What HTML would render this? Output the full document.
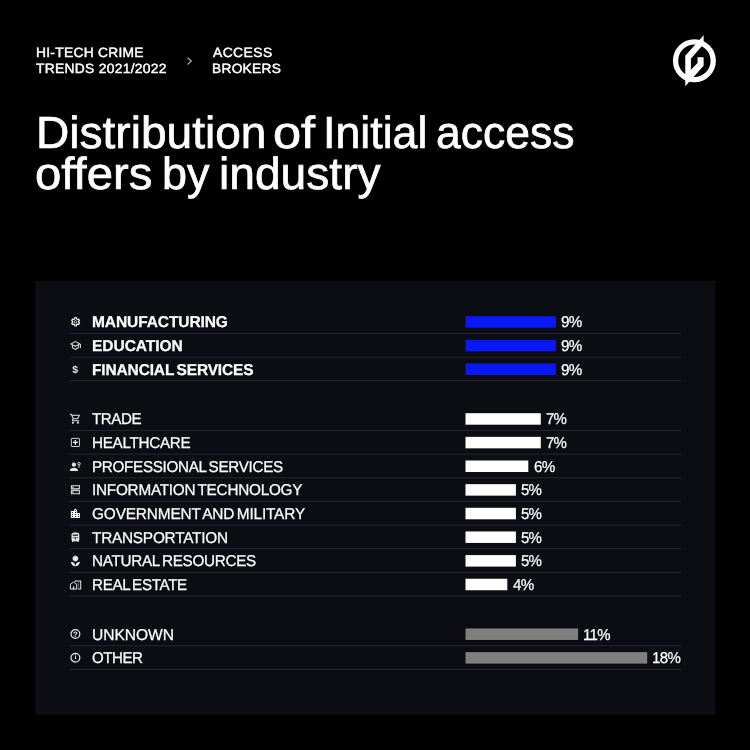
<!DOCTYPE html>
<html lang="en">
<head>
<meta charset="utf-8">
<title>Distribution of Initial access offers by industry</title>
<style>
html,body{margin:0;padding:0;background:#000;}
body{width:750px;height:750px;position:relative;overflow:hidden;font-family:"Liberation Sans",sans-serif;color:#fff;text-rendering:geometricPrecision;}
.t{position:absolute;white-space:pre;line-height:normal;color:#fff;transform-origin:0 0;}
.abs{position:absolute;}
.ttl{position:absolute;left:0;top:0;margin:0;padding:0;font-weight:normal;font-size:0;line-height:0;}
.gl{color:#e6e6e6;line-height:1;}
</style>
</head>
<body>
<svg class="abs" style="left:185px;top:55px" width="10" height="12" viewBox="0 0 10 12"><path d="M2.6 2.7 L6.2 6.1 L2.6 9.5" fill="none" stroke="#a3adba" stroke-width="1.3"/></svg>
<svg class="abs" style="left:664px;top:28px" width="64" height="66" viewBox="0 0 64 66">
<circle cx="30.4" cy="32.8" r="18.85" fill="none" stroke="#fff" stroke-width="5.3"/>
<path d="M39.64 7.20 L39.64 15.95 L26.89 30.64 L26.89 41.80 L33.52 34.96 L33.52 29.20 L39.64 29.20 L39.64 37.84 L21.25 58.30 L21.25 27.76 Z" fill="#fff"/>
</svg>
<svg class="abs" style="left:0;top:0" width="750" height="750" viewBox="0 0 750 750">
<rect x="35" y="280.8" width="680.3" height="434" fill="#0c0d12"/>
<rect x="70" y="332.95" width="611" height="1.1" fill="#24262d"/>
<rect x="465.5" y="316.20" width="90.50" height="11.5" fill="#0a18f5"/>
<rect x="70" y="356.60" width="611" height="1.1" fill="#24262d"/>
<rect x="465.5" y="339.85" width="90.50" height="11.5" fill="#0a18f5"/>
<rect x="70" y="380.25" width="611" height="1.1" fill="#24262d"/>
<rect x="465.5" y="363.50" width="90.50" height="11.5" fill="#0a18f5"/>
<rect x="70" y="429.95" width="611" height="1.1" fill="#24262d"/>
<rect x="465.5" y="413.20" width="75.30" height="11.5" fill="#ffffff"/>
<rect x="70" y="453.60" width="611" height="1.1" fill="#24262d"/>
<rect x="465.5" y="436.85" width="75.30" height="11.5" fill="#ffffff"/>
<rect x="70" y="477.25" width="611" height="1.1" fill="#24262d"/>
<rect x="465.5" y="460.50" width="62.80" height="11.5" fill="#ffffff"/>
<rect x="70" y="500.90" width="611" height="1.1" fill="#24262d"/>
<rect x="465.5" y="484.15" width="50.40" height="11.5" fill="#ffffff"/>
<rect x="70" y="524.55" width="611" height="1.1" fill="#24262d"/>
<rect x="465.5" y="507.80" width="50.40" height="11.5" fill="#ffffff"/>
<rect x="70" y="548.20" width="611" height="1.1" fill="#24262d"/>
<rect x="465.5" y="531.45" width="50.40" height="11.5" fill="#ffffff"/>
<rect x="70" y="571.85" width="611" height="1.1" fill="#24262d"/>
<rect x="465.5" y="555.10" width="50.40" height="11.5" fill="#ffffff"/>
<rect x="70" y="595.50" width="611" height="1.1" fill="#24262d"/>
<rect x="465.5" y="578.75" width="41.80" height="11.5" fill="#ffffff"/>
<rect x="70" y="645.20" width="611" height="1.1" fill="#24262d"/>
<rect x="465.5" y="628.45" width="112.60" height="11.5" fill="#807e7e"/>
<rect x="70" y="668.85" width="611" height="1.1" fill="#24262d"/>
<rect x="465.5" y="652.10" width="181.70" height="11.5" fill="#807e7e"/>
<g transform="translate(69.60 315.80) scale(0.5)"><path d="M13.58 3.85 L10.42 3.85 L9.95 6.36 L8.14 7.40 L5.74 6.55 L4.15 9.30 L6.09 10.96 L6.09 13.04 L4.15 14.70 L5.74 17.45 L8.14 16.60 L9.95 17.64 L10.42 20.15 L13.58 20.15 L14.05 17.64 L15.86 16.60 L18.26 17.45 L19.85 14.70 L17.91 13.04 L17.91 10.96 L19.85 9.30 L18.26 6.55 L15.86 7.40 L14.05 6.36 Z" fill="none" stroke="#f4f4f4" stroke-width="2.4" stroke-linejoin="round"/><circle cx="12" cy="12" r="2.5" fill="none" stroke="#f4f4f4" stroke-width="1.6"/></g>
<g transform="translate(69.40 339.45) scale(0.5)"><path d="M12 3L1 9l4 2.180v6L12 21l7-3.820v-6l2-1.090V17h2V9L12 3zm6.820 6L12 12.720 5.180 9 12 5.280 18.820 9zM17 15.990l-5 2.730-5-2.730v-3.720L12 15l5-2.730v3.720z" fill="#e6e6e6"/></g>
<g transform="translate(69.40 412.80) scale(0.5)"><path d="M15.550 13c.75 0 1.410-.41 1.750-1.030l3.580-6.490c.37-.66-.11-1.480-.87-1.480H5.210l-.94-2H1v2h2l3.600 7.590-1.350 2.440C4.520 15.370 5.480 17 7 17h12v-2H7l1.100-2h7.450zM6.160 6h12.150l-2.760 5H8.530L6.160 6zM7 18c-1.100 0-1.990.9-1.990 2S5.900 22 7 22s2-.9 2-2-.9-2-2-2zm10 0c-1.100 0-1.990.9-1.990 2s.89 2 1.990 2 2-.9 2-2-.9-2-2-2z" fill="#e6e6e6"/></g>
<g transform="translate(69.40 436.45) scale(0.5)"><rect x="3.900" y="3.900" width="16.200" height="16.200" rx="1.2" fill="none" stroke="#e6e6e6" stroke-width="1.8"/><path d="M10.700 7.200h2.600v3.500h3.500v2.600h-3.500v3.500h-2.600v-3.500H7.200v-2.600h3.500z" fill="#fff"/></g>
<g transform="translate(69.40 460.10) scale(0.5)"><circle cx="9" cy="9.200" r="4.200" fill="#e6e6e6"/><path d="M1.200 21.600v-2.400c0-2.700 5.200-4.100 7.800-4.100s7.800 1.400 7.800 4.100v2.400z" fill="#e6e6e6"/><circle cx="19.200" cy="7.300" r="2.600" fill="none" stroke="#e6e6e6" stroke-width="1.800"/><path d="M18.200 10.200h2.200v5.200h-2.200z" fill="#e6e6e6" opacity=".8"/></g>
<g transform="translate(69.40 483.75) scale(0.5)"><rect x="4" y="4" width="16" height="6" fill="none" stroke="#e6e6e6" stroke-width="2"/><rect x="4" y="14" width="16" height="6" fill="none" stroke="#e6e6e6" stroke-width="2"/><circle cx="7" cy="7" r="1.500" fill="#e6e6e6"/><circle cx="7" cy="17" r="1.500" fill="#e6e6e6"/><rect x="4" y="10" width="16" height="4" fill="#e6e6e6" opacity=".45"/></g>
<g transform="translate(69.40 507.40) scale(0.5)"><path d="M15 11V5l-3-3-3 3v2H3v14h18V11h-6zm-8 8H5v-2h2v2zm0-4H5v-2h2v2zm0-4H5V9h2v2zm6 8h-2v-2h2v2zm0-4h-2v-2h2v2zm0-4h-2V9h2v2zm0-4h-2V5h2v2zm6 12h-2v-2h2v2zm0-4h-2v-2h2v2z" fill="#fff"/></g>
<g transform="translate(69.40 531.05) scale(0.5)"><path d="M4.200 6.600C4.200 3.800 7.600 2.800 12 2.800s7.800 1 7.800 3.800V17.200c0 .9-.4 1.700-1 2.200V21.800h-2.700V20.200h-8.200v1.600H5.200v-2.400c-.6-.5-1-1.300-1-2.200z" fill="#e6e6e6"/><rect x="6.600" y="7" width="10.800" height="2.400" fill="#0c0d12"/><rect x="6.600" y="11.800" width="10.800" height="2.200" fill="#0c0d12" opacity=".5"/><circle cx="12" cy="15.200" r="1.500" fill="#0c0d12"/></g>
<g transform="translate(69.40 554.70) scale(0.5)"><path d="M12 2.400l4.600 2.650v5.300L12 13l-4.600-2.650v-5.300z" fill="#e6e6e6" stroke="#e6e6e6" stroke-width="1.800" stroke-linejoin="round"/><path d="M3 14c4.970 0 9 4.030 9 9-4.970 0-9-4.030-9-9zm9 9c0-4.970 4.030-9 9-9 0 4.970-4.030 9-9 9z" fill="#e6e6e6"/><circle cx="12" cy="7.700" r="1.700" fill="#fff"/></g>
<g transform="translate(69.40 578.35) scale(0.5)"><path d="M2 11.800L8.300 7.300l6.300 4.500V21.400H2z" fill="none" stroke="#e6e6e6" stroke-width="2" stroke-linejoin="round"/><path d="M7.100 21.400v-5.200h2.400v5.200" fill="#fff"/><path d="M10.400 4.300h13.200v18.100h-7v-2H21.600V6.300h-9.200v1.400l-2-1.400z" fill="#e6e6e6"/><path d="M17.400 8.300h2v2h-2zM17.400 12.300h2v2h-2zM17.400 16.300h2v2h-2z" fill="#e6e6e6" opacity=".7"/></g>
<g transform="translate(69.40 628.05) scale(0.5)"><circle cx="12" cy="12" r="8.800" fill="none" stroke="#e6e6e6" stroke-width="2.5"/></g>
<g transform="translate(69.40 651.70) scale(0.5)"><circle cx="12" cy="12" r="8.800" fill="none" stroke="#e6e6e6" stroke-width="2.5"/></g>
</svg>
<div class="t" style="left:92.13px;top:314px;letter-spacing:-0.109px;transform:scaleX(0.9904);font-size:15.7px;-webkit-text-stroke:0.25px #fff;font-weight:bold;">MANUFACTURING</div>
<div class="t" style="left:561.40px;top:314px;letter-spacing:-0.653px;transform:scaleX(0.9702);font-size:15.7px;-webkit-text-stroke:0.25px #fff;">9%</div>
<div class="t" style="left:92.12px;top:338px;letter-spacing:-0.084px;transform:scaleX(0.9926);font-size:15.7px;-webkit-text-stroke:0.25px #fff;font-weight:bold;">EDUCATION</div>
<div class="t" style="left:561.40px;top:338px;letter-spacing:-0.653px;transform:scaleX(0.9702);font-size:15.7px;-webkit-text-stroke:0.25px #fff;">9%</div>
<div class="t" style="left:92.13px;top:362px;letter-spacing:-0.132px;transform:scaleX(0.9864);font-size:15.7px;-webkit-text-stroke:0.25px #fff;word-spacing:-1.6px;font-weight:bold;">FINANCIAL SERVICES</div>
<div class="t" style="left:561.40px;top:362px;letter-spacing:-0.653px;transform:scaleX(0.9702);font-size:15.7px;-webkit-text-stroke:0.25px #fff;">9%</div>
<div class="t" style="left:92.35px;top:411px;letter-spacing:-0.441px;transform:scaleX(0.9664);font-size:15.7px;-webkit-text-stroke:0.25px #fff;">TRADE</div>
<div class="t" style="left:545.59px;top:411px;letter-spacing:-0.956px;transform:scaleX(0.9563);font-size:15.7px;-webkit-text-stroke:0.25px #fff;">7%</div>
<div class="t" style="left:91.87px;top:435px;letter-spacing:-0.313px;transform:scaleX(0.9725);font-size:15.7px;-webkit-text-stroke:0.25px #fff;">HEALTHCARE</div>
<div class="t" style="left:545.59px;top:435px;letter-spacing:-0.956px;transform:scaleX(0.9563);font-size:15.7px;-webkit-text-stroke:0.25px #fff;">7%</div>
<div class="t" style="left:91.87px;top:459px;letter-spacing:-0.307px;transform:scaleX(0.9696);font-size:15.7px;-webkit-text-stroke:0.25px #fff;word-spacing:-1.6px;">PROFESSIONAL SERVICES</div>
<div class="t" style="left:533.58px;top:459px;letter-spacing:-0.643px;transform:scaleX(0.9706);font-size:15.7px;-webkit-text-stroke:0.25px #fff;">6%</div>
<div class="t" style="left:91.76px;top:482px;letter-spacing:-0.251px;transform:scaleX(0.9760);font-size:15.7px;-webkit-text-stroke:0.25px #fff;word-spacing:-1.6px;">INFORMATION TECHNOLOGY</div>
<div class="t" style="left:521.12px;top:482px;letter-spacing:-0.917px;transform:scaleX(0.9579);font-size:15.7px;-webkit-text-stroke:0.25px #fff;">5%</div>
<div class="t" style="left:92.48px;top:506px;letter-spacing:-0.175px;transform:scaleX(0.9825);font-size:15.7px;-webkit-text-stroke:0.25px #fff;word-spacing:-1.6px;">GOVERNMENT AND MILITARY</div>
<div class="t" style="left:521.12px;top:506px;letter-spacing:-0.917px;transform:scaleX(0.9579);font-size:15.7px;-webkit-text-stroke:0.25px #fff;">5%</div>
<div class="t" style="left:92.35px;top:530px;letter-spacing:-0.234px;transform:scaleX(0.9783);font-size:15.7px;-webkit-text-stroke:0.25px #fff;">TRANSPORTATION</div>
<div class="t" style="left:521.12px;top:530px;letter-spacing:-0.917px;transform:scaleX(0.9579);font-size:15.7px;-webkit-text-stroke:0.25px #fff;">5%</div>
<div class="t" style="left:91.87px;top:553px;letter-spacing:-0.295px;transform:scaleX(0.9725);font-size:15.7px;-webkit-text-stroke:0.25px #fff;word-spacing:-1.6px;">NATURAL RESOURCES</div>
<div class="t" style="left:521.12px;top:553px;letter-spacing:-0.917px;transform:scaleX(0.9579);font-size:15.7px;-webkit-text-stroke:0.25px #fff;">5%</div>
<div class="t" style="left:91.87px;top:577px;letter-spacing:-0.335px;transform:scaleX(0.9666);font-size:15.7px;-webkit-text-stroke:0.25px #fff;word-spacing:-1.6px;">REAL ESTATE</div>
<div class="t" style="left:512.63px;top:577px;letter-spacing:-0.776px;transform:scaleX(0.9649);font-size:15.7px;-webkit-text-stroke:0.25px #fff;">4%</div>
<div class="t" style="left:91.89px;top:627px;letter-spacing:-0.067px;transform:scaleX(0.9950);font-size:15.7px;-webkit-text-stroke:0.25px #fff;">UNKNOWN</div>
<div class="t" style="left:582.84px;top:627px;letter-spacing:-0.654px;transform:scaleX(0.9544);font-size:15.7px;-webkit-text-stroke:0.25px #fff;">11%</div>
<div class="t" style="left:92.32px;top:650px;letter-spacing:-0.509px;transform:scaleX(0.9620);font-size:15.7px;-webkit-text-stroke:0.25px #fff;">OTHER</div>
<div class="t" style="left:651.94px;top:650px;letter-spacing:-0.615px;transform:scaleX(0.9588);font-size:15.7px;-webkit-text-stroke:0.25px #fff;">18%</div>
<div class="t" style="left:35.75px;top:45px;letter-spacing:0.260px;transform:scaleX(1.0311);font-size:13.4px;-webkit-text-stroke:0.45px #fff;">HI-TECH CRIME</div>
<div class="t" style="left:36.28px;top:61px;letter-spacing:0.276px;transform:scaleX(1.0340);font-size:13.4px;-webkit-text-stroke:0.45px #fff;">TRENDS 2021/2022</div>
<div class="t" style="left:212.50px;top:45px;letter-spacing:0.404px;transform:scaleX(1.0368);font-size:13.4px;-webkit-text-stroke:0.45px #fff;">ACCESS</div>
<div class="t" style="left:212.16px;top:61px;letter-spacing:0.273px;transform:scaleX(1.0255);font-size:13.4px;-webkit-text-stroke:0.45px #fff;">BROKERS</div>
<h1 class="ttl"><span class="t" style="left:35.74px;top:107px;letter-spacing:0.000px;transform:scaleX(1.0236);font-size:45px;-webkit-text-stroke:0.7px #fff;">Distribution</span> <span class="t" style="left:273.38px;top:107px;letter-spacing:0.000px;transform:scaleX(1.1235);font-size:45px;-webkit-text-stroke:0.7px #fff;">of</span> <span class="t" style="left:322.68px;top:107px;letter-spacing:0.000px;transform:scaleX(0.9934);font-size:45px;-webkit-text-stroke:0.7px #fff;">Initial</span> <span class="t" style="left:435.51px;top:107px;letter-spacing:0.000px;transform:scaleX(0.9882);font-size:45px;-webkit-text-stroke:0.7px #fff;">access</span> <span class="t" style="left:35.49px;top:148px;letter-spacing:0.000px;transform:scaleX(1.0504);font-size:45px;-webkit-text-stroke:0.7px #fff;">offers</span> <span class="t" style="left:161.95px;top:148px;letter-spacing:0.000px;transform:scaleX(0.9977);font-size:45px;-webkit-text-stroke:0.7px #fff;">by</span> <span class="t" style="left:218.93px;top:148px;letter-spacing:0.000px;transform:scaleX(1.0254);font-size:45px;-webkit-text-stroke:0.7px #fff;">industry</span></h1>
<div class="t gl" style="left:72.2px;top:365.50px;font-size:10.4px;font-weight:bold;">$</div>
<div class="t gl" style="left:73.1px;top:630.85px;font-size:7.8px;font-weight:bold;">?</div>
<div class="t gl" style="left:74.45px;top:654.70px;font-size:6.8px;font-weight:bold;">i</div>
</body>
</html>
